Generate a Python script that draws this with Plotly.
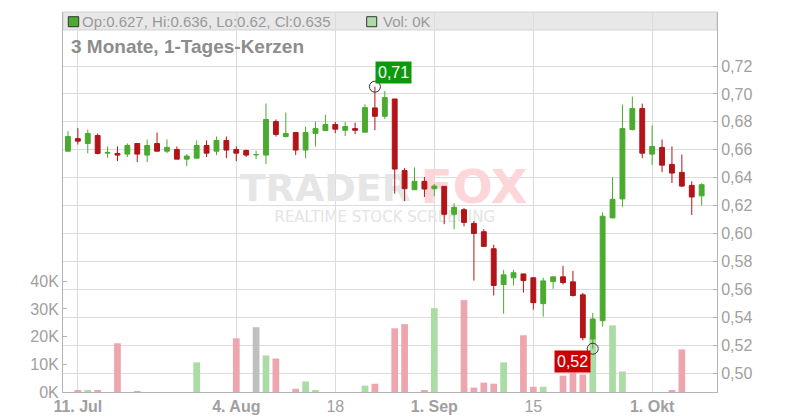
import plotly.graph_objects as go
import pandas as pd

# ---- data -------------------------------------------------------------
dates = [d.strftime("%Y-%m-%d") for d in pd.bdate_range("2025-07-10", "2025-10-08")]

opens = [0.659, 0.668, 0.6645, 0.6702, 0.6576, 0.6574, 0.6569, 0.6645, 0.6562, 0.6645,
         0.659, 0.6602, 0.6533, 0.654, 0.6631, 0.659, 0.6667, 0.6602, 0.6595, 0.6565,
         0.6562, 0.6802, 0.6695, 0.6724, 0.6598, 0.6717, 0.6738, 0.6781, 0.674, 0.6752,
         0.6726, 0.690, 0.684, 0.6964, 0.6452, 0.6314, 0.6374, 0.6321, 0.6338, 0.6138,
         0.6171, 0.6073, 0.6013, 0.5891, 0.5635, 0.5683, 0.5711, 0.5683, 0.5498, 0.5656,
         0.569, 0.5654, 0.5561, 0.5245, 0.5376, 0.6112, 0.6248, 0.6745, 0.6895, 0.6569,
         0.6617, 0.6495, 0.6438, 0.6345, 0.627]
highs = [0.6733, 0.6755, 0.6745, 0.6717, 0.6624, 0.6624, 0.6645, 0.6645, 0.6674, 0.6724,
         0.6674, 0.6624, 0.6569, 0.6667, 0.6667, 0.6695, 0.6695, 0.6624, 0.6602, 0.6595,
         0.6931, 0.6817, 0.6867, 0.6724, 0.6767, 0.6802, 0.6852, 0.680, 0.680, 0.6795,
         0.6926, 0.7052, 0.7021, 0.6964, 0.6469, 0.6474, 0.6405, 0.6355, 0.6338, 0.6217,
         0.6183, 0.609, 0.6032, 0.592, 0.574, 0.574, 0.5711, 0.5687, 0.5683, 0.569,
         0.5769, 0.5733, 0.5575, 0.5431, 0.6152, 0.6402, 0.6924, 0.6981, 0.6931, 0.6774,
         0.6674, 0.6624, 0.6567, 0.6374, 0.636]
lows = [0.6588, 0.6638, 0.6574, 0.6567, 0.6543, 0.6519, 0.6548, 0.6512, 0.6512, 0.659,
        0.6576, 0.6533, 0.6483, 0.654, 0.6548, 0.6562, 0.654, 0.6519, 0.6548, 0.6533,
        0.6498, 0.6695, 0.6688, 0.6562, 0.654, 0.6624, 0.6738, 0.6719, 0.6698, 0.6712,
        0.6726, 0.674, 0.6821, 0.6286, 0.6233, 0.6314, 0.6262, 0.6267, 0.6067, 0.6031,
        0.6051, 0.5663, 0.5908, 0.5556, 0.5426, 0.5628, 0.5577, 0.5455, 0.5405, 0.5604,
        0.5635, 0.5549, 0.5235, 0.5175, 0.5333, 0.6112, 0.619, 0.6738, 0.654, 0.649,
        0.644, 0.6362, 0.6333, 0.6133, 0.62]
closes = [0.6695, 0.6662, 0.6717, 0.6574, 0.6581, 0.6562, 0.6631, 0.6569, 0.6631, 0.659,
          0.6617, 0.6533, 0.6555, 0.6631, 0.6576, 0.6667, 0.6598, 0.6576, 0.6562, 0.6565,
          0.6817, 0.671, 0.6717, 0.6598, 0.6724, 0.6752, 0.6781, 0.6748, 0.6767, 0.674,
          0.6902, 0.684, 0.6974, 0.6462, 0.6321, 0.6374, 0.6319, 0.634, 0.6138, 0.6188,
          0.608, 0.6001, 0.5908, 0.5628, 0.5704, 0.5719, 0.5663, 0.5505, 0.5661, 0.569,
          0.5649, 0.5556, 0.5254, 0.5388, 0.6124, 0.6245, 0.6752, 0.6895, 0.6576, 0.6624,
          0.649, 0.6433, 0.634, 0.6262, 0.635]
volumes = [0, 400, 400, 400, 0, 17600, 0, 300, 0, 0,
           0, 0, 0, 10700, 0, 0, 0, 19400, 0, 23400,
           13200, 12100, 0, 1200, 3800, 500, 0, 0, 0, 0,
           2300, 3000, 0, 23000, 24500, 0, 500, 30300, 0, 0,
           33200, 1600, 3400, 3000, 10700, 0, 20500, 1900, 1900, 0,
           5900, 7000, 6300, 19700, 0, 24100, 7400, 0, 0, 0,
           0, 500, 15400, 0, 0]

price_ticks = [0.50, 0.52, 0.54, 0.56, 0.58, 0.60, 0.62, 0.64, 0.66, 0.68, 0.70, 0.72]
vol_ticks = [0, 10000, 20000, 30000, 40000]
vol_tick_labels = ["0K", "10K", "20K", "30K", "40K"]
x_tick_dates = ["2025-07-11", "2025-08-04", "2025-08-18", "2025-09-01", "2025-09-15", "2025-10-01"]
x_tick_labels = ["<b>11. Jul</b>", "<b>4. Aug</b>", "18", "<b>1. Sep</b>", "15", "<b>1. Okt</b>"]
title_text = "3 Monate, 1-Tages-Kerzen"

# ---- styles -----------------------------------------------------------
GREEN = "#4aab2f"
RED = "#b21418"
VOL_GREEN = "#acdca5"
VOL_RED = "#eea6ae"
VOL_GRAY = "#bfbfbf"
GRID = "#dcdcdc"
AXIS = "#b4b4b4"
TICK = "#a0a0a0"
FONT = "Liberation Sans, Arial, sans-serif"

vol_colors = []
for o, c in zip(opens, closes):
    if c > o:
        vol_colors.append(VOL_GREEN)
    elif c < o:
        vol_colors.append(VOL_RED)
    else:
        vol_colors.append(VOL_GRAY)

fig = go.Figure()

# watermark (base subplot, drawn beneath everything else)
fig.add_trace(go.Scatter(
    x=[dates[26], dates[41], dates[32]], y=[0.527, 0.527, 0.458],
    mode="text", text=["TRADER", "FOX", "REALTIME STOCK SCREENING"],
    textfont=dict(size=[38, 47, 15], color=["#e6e6e6", "#fcd6d9", "#e4e4e4"],
                  family=["DejaVu Sans", "DejaVu Sans", "DejaVu Sans"],
                  weight=["bold", "bold", "normal"]),
    textposition="middle center", hoverinfo="skip", xaxis="x", yaxis="y"))

# volume
fig.add_trace(go.Bar(x=dates, y=volumes, marker=dict(color=vol_colors, line=dict(width=0)),
                     yaxis="y2", hoverinfo="skip"))

# candles
fig.add_trace(go.Candlestick(
    x=dates, open=opens, high=highs, low=lows, close=closes, yaxis="y3",
    increasing=dict(line=dict(color=GREEN, width=1), fillcolor=GREEN),
    decreasing=dict(line=dict(color=RED, width=1), fillcolor=RED),
    whiskerwidth=0, hoverinfo="skip"))

# extreme markers
i_hi = highs.index(max(highs))
i_lo = lows.index(min(lows))
fig.add_trace(go.Scatter(
    x=[dates[i_hi], dates[i_lo]], y=[highs[i_hi], lows[i_lo]], mode="markers",
    marker=dict(symbol="circle-open", size=11, color="#333333", line=dict(width=1)),
    yaxis="y3", hoverinfo="skip"))

fig.add_annotation(x=dates[i_hi], y=highs[i_hi], xref="x", yref="y3",
                   text=f"{highs[i_hi]:.2f}".replace(".", ","), showarrow=False,
                   xshift=19, yshift=14, bgcolor="#0c990c", borderpad=2,
                   font=dict(color="white", size=16, family=FONT))
fig.add_annotation(x=dates[i_lo], y=lows[i_lo], xref="x", yref="y3",
                   text=f"{lows[i_lo]:.2f}".replace(".", ","), showarrow=False,
                   xshift=-20, yshift=-13, bgcolor="#cc0000", borderpad=2,
                   font=dict(color="white", size=16, family=FONT))

# header bar
fig.add_shape(type="rect", xref="paper", yref="paper", x0=0, x1=1, y0=0.9527, y1=1.0,
              fillcolor="#e8e8e8", line=dict(color="#d2d2d2", width=1), layer="below")
fig.add_shape(type="rect", xref="paper", yref="paper", x0=0.0081, x1=0.024, y0=0.9613, y1=0.9876,
              fillcolor=GREEN, line=dict(color="#333333", width=1), layer="above")
fig.add_shape(type="rect", xref="paper", yref="paper", x0=0.4644, x1=0.4797, y0=0.9613, y1=0.9876,
              fillcolor=VOL_GREEN, line=dict(color="#333333", width=1), layer="above")

header = (f"Op:{opens[-1]:g}, Hi:{highs[-1]:g}, Lo:{lows[-1]:g}, Cl:{closes[-1]:g}")
fig.add_annotation(x=0.031, y=0.9745, xref="paper", yref="paper", xanchor="left", yanchor="middle",
                   text=header, showarrow=False, xshift=-3,
                   font=dict(size=15, color="#999999", family=FONT))
fig.add_annotation(x=0.4908, y=0.9745, xref="paper", yref="paper", xanchor="left", yanchor="middle",
                   text=f"Vol: {volumes[-1] // 1000}K", showarrow=False, xshift=-3,
                   font=dict(size=15, color="#999999", family=FONT))
fig.add_annotation(x=0.0138, y=0.908, xref="paper", yref="paper", xanchor="left", yanchor="middle",
                   text=f"<b>{title_text}</b>", showarrow=False, xshift=-3,
                   font=dict(size=19, color="#8c8c8c", family=FONT))

fig.update_layout(
    width=800, height=420,
    margin=dict(l=63, r=83, t=12, b=28, autoexpand=False),
    paper_bgcolor="white", plot_bgcolor="white",
    showlegend=False, hovermode=False, separators=",.",
    bargap=0.32,
    font=dict(family=FONT, color=TICK),
    xaxis=dict(type="category", categoryorder="array", categoryarray=dates,
               range=[-0.5, 65.55], tickvals=x_tick_dates, ticktext=x_tick_labels,
               showgrid=True, gridcolor=GRID, gridwidth=1, showline=True, linecolor=AXIS,
               ticks="", tickfont=dict(size=16, color=TICK), rangeslider=dict(visible=False),
               fixedrange=True, automargin=False),
    yaxis=dict(visible=False, range=[0, 1], fixedrange=True, automargin=False),
    yaxis2=dict(overlaying="y", side="left", range=[0, 137300], tickvals=vol_ticks,
                ticktext=vol_tick_labels, showgrid=False, zeroline=False, showline=True,
                linecolor=AXIS, ticks="inside", ticklen=4, tickcolor=AXIS,
                tickfont=dict(size=16, color=TICK), fixedrange=True, automargin=False),
    yaxis3=dict(overlaying="y", side="right", range=[0.4865, 0.7587], tickvals=price_ticks,
                tickformat=".2f", showgrid=True, gridcolor=GRID, gridwidth=1, zeroline=False,
                showline=True, linecolor=AXIS, ticks="inside", ticklen=4, tickcolor=AXIS,
                tickfont=dict(size=16, color=TICK), fixedrange=True, automargin=False),
)

fig.write_html("out.html", config={"displayModeBar": False},
               post_script="document.body.style.margin='0';document.body.style.padding='0';")
